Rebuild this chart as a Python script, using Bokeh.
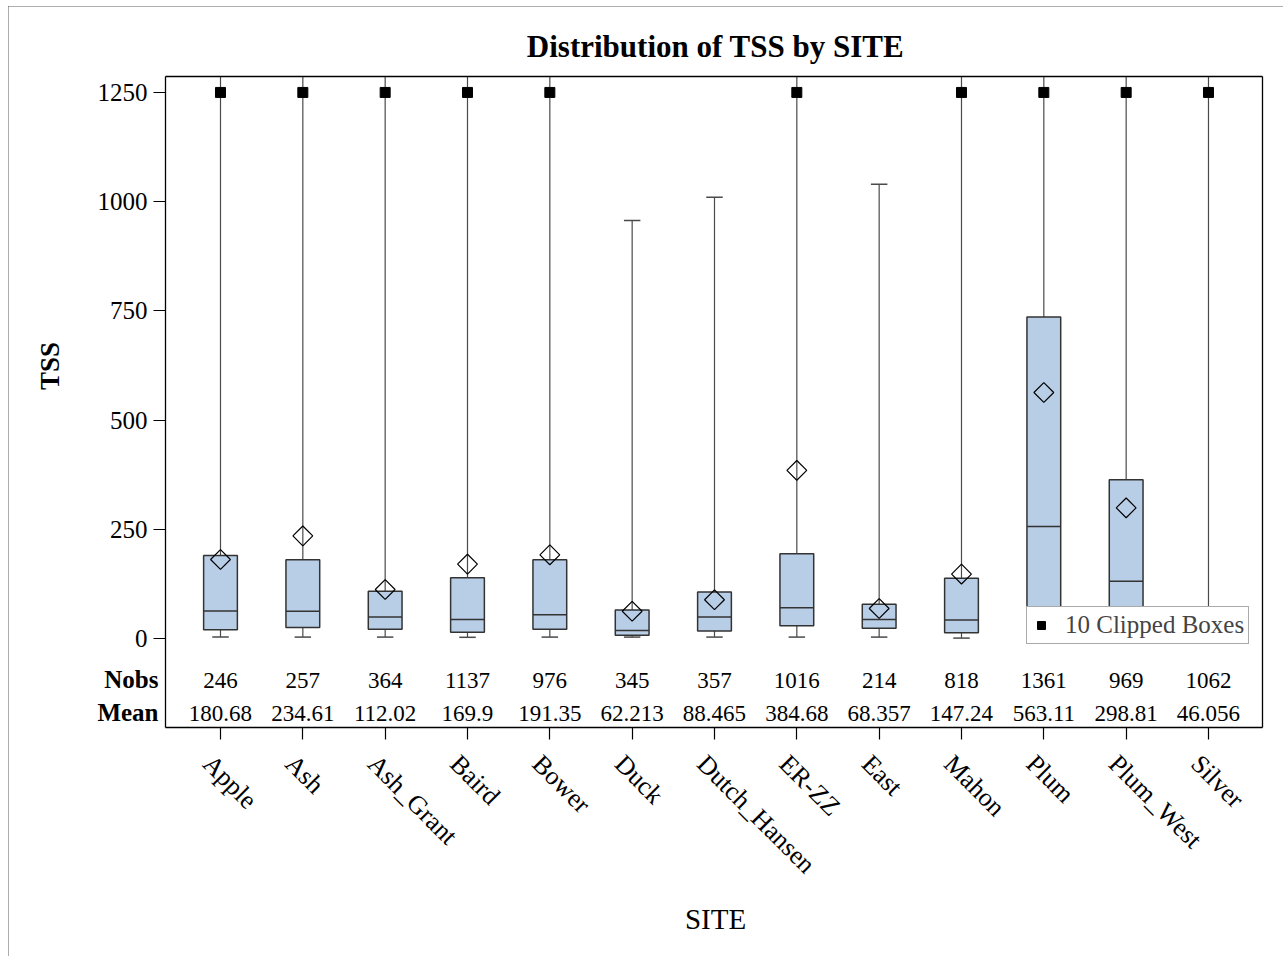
import math
from bokeh.plotting import figure
from bokeh.models import Range1d, FixedTicker, LinearAxis
from bokeh.embed import file_html
from bokeh.resources import INLINE
from bokeh.core.properties import value

# ---------------- data ----------------
sites = ["Apple", "Ash", "Ash_Grant", "Baird", "Bower", "Duck", "Dutch_Hansen",
         "ER-ZZ", "East", "Mahon", "Plum", "Plum_West", "Silver"]
nobs = [246, 257, 364, 1137, 976, 345, 357, 1016, 214, 818, 1361, 969, 1062]
mean_labels = ["180.68", "234.61", "112.02", "169.9", "191.35", "62.213", "88.465",
               "384.68", "68.357", "147.24", "563.11", "298.81", "46.056"]
means = [180.68, 234.61, 112.02, 169.9, 191.35, 62.213, 88.465,
         384.68, 68.357, 147.24, 563.11, 298.81, 46.056]
q1 = [20, 25, 21, 14, 21, 7, 17, 29, 23, 13, 55, 25, 6]
medians = [63, 62, 49, 43, 54, 18, 49, 70, 43, 42, 256, 131, 18]
q3 = [190, 180, 108, 139, 180, 65, 106, 194, 78, 138, 736, 363, 55]
whisker_low = [3, 3, 3, 2.5, 3, 3, 3, 3, 3, 0.7, 2, 1, 0]
# None -> whisker runs past the clip value (clipped box)
whisker_high = [None, None, None, None, None, 957, 1010, None, 1040, None, None, None, None]
clip_value = 1250
y_ticks = [0, 250, 500, 750, 1000, 1250]

# ---------------- geometry (page pixels) ----------------
OX, OY = 8, 6            # canvas offset on the page
W, H = 1275, 950         # canvas size
BOX_L, BOX_R, BOX_T, BOX_B = 165, 1262, 76, 727   # visible plot box
X_LO, X_HI = -0.668, 12.656
Y_LO, Y_HI = -204.0, 1286.5
SX = (BOX_R - BOX_L) / (X_HI - X_LO)
SY = (BOX_B - BOX_T) / (Y_HI - Y_LO)


def dx(px):
    return X_LO + (px - BOX_L) / SX


def dy(py):
    return Y_LO + (BOX_B - py) / SY


def base_y(py, fs):
    # baseline at page pixel py for a font of fs px
    return dy(py - 0.4 * fs)


x_start, x_end = dx(OX), dx(OX + W)
y_start, y_end = dy(OY + H), dy(OY)

# ---------------- styles ----------------
FONT = "Liberation Serif"
BOX_FILL = "#B8CEE6"
EDGE = "#333333"
WHISK = "#4a4a4a"
BOX_W = 0.41
CAP_W = 0.2

p = figure(width=W, height=H, output_backend="svg", toolbar_location=None,
           x_range=Range1d(x_start, x_end), y_range=Range1d(y_start, y_end),
           x_axis_location=None, y_axis_location=None, min_border=0)
p.styles = {"margin-left": f"{OX}px", "margin-top": f"{OY}px",
            "outline": "1px solid #5a5a5a", "outline-offset": "-1px"}
p.xgrid.visible = False
p.ygrid.visible = False
p.outline_line_color = None

xs = list(range(len(sites)))

# whiskers
clipped = [i for i in xs if whisker_high[i] is None]
up_y1 = [Y_HI if whisker_high[i] is None else whisker_high[i] for i in xs]
p.segment(x0=xs, y0=q3, x1=xs, y1=up_y1, line_color=WHISK, line_width=1.2)
p.segment(x0=xs, y0=q1, x1=xs, y1=whisker_low, line_color=WHISK, line_width=1.2)
p.segment(x0=[i - CAP_W / 2 for i in xs], y0=whisker_low,
          x1=[i + CAP_W / 2 for i in xs], y1=whisker_low, line_color=WHISK, line_width=1.5)
capped = [i for i in xs if whisker_high[i] is not None]
p.segment(x0=[i - CAP_W / 2 for i in capped], y0=[whisker_high[i] for i in capped],
          x1=[i + CAP_W / 2 for i in capped], y1=[whisker_high[i] for i in capped],
          line_color=WHISK, line_width=1.5)

# boxes
p.vbar(x=xs, width=BOX_W, bottom=q1, top=q3, fill_color=BOX_FILL,
       line_color=EDGE, line_width=1.5)
p.segment(x0=[i - BOX_W / 2 for i in xs], y0=medians,
          x1=[i + BOX_W / 2 for i in xs], y1=medians, line_color=EDGE, line_width=1.5)

# means (open diamonds)
p.scatter(x=xs, y=means, marker="square", angle=math.pi / 4, size=14,
          fill_color=None, line_color="black", line_width=1.2)

# clipped markers
p.scatter(x=clipped, y=[clip_value] * len(clipped), marker="square", size=10,
          fill_color="black", line_color="black",
          legend_label=f"{len(clipped)} Clipped Boxes")

leg = p.legend[0]
leg.location = (1026 - OX, OY + H - 644)
leg.margin = 0
leg.padding = 4
leg.glyph_width = 20
leg.glyph_height = 24
leg.label_height = 24
leg.label_standoff = 14
leg.label_text_font = FONT
leg.label_text_font_size = "25px"
leg.border_line_color = "#555555"
leg.border_line_width = 1
leg.background_fill_alpha = 1.0

# inset statistics table
p.text(x=xs, y=[base_y(689, 23)] * len(xs), text=[str(n) for n in nobs],
       text_align="center", text_baseline="alphabetic", text_font=value(FONT),
       text_font_size="23px", text_color="black")
p.text(x=xs, y=[base_y(722, 23)] * len(xs), text=mean_labels,
       text_align="center", text_baseline="alphabetic", text_font=value(FONT),
       text_font_size="23px", text_color="black")
p.text(x=[dx(158)] * 2, y=[base_y(689, 25), base_y(722, 25)], text=["Nobs", "Mean"],
       text_align="right", text_baseline="alphabetic", text_font=value(FONT),
       text_font_size="25px", text_font_style="bold", text_color="black")

# titles
p.text(x=[dx(715)], y=[base_y(58.5, 31)], text=["Distribution of TSS by SITE"],
       text_align="center", text_baseline="alphabetic", text_font=value(FONT),
       text_font_size="31px", text_font_style="bold", text_color="black")
p.text(x=[dx(60 - 0.4 * 27)], y=[dy(365.5)], text=["TSS"], angle=math.pi / 2,
       text_align="center", text_baseline="alphabetic", text_font=value(FONT),
       text_font_size="27px", text_font_style="bold", text_color="black")
p.text(x=[dx(715)], y=[base_y(930, 29)], text=["SITE"], text_align="center",
       text_baseline="alphabetic", text_font=value(FONT), text_font_size="29px",
       text_color="black")


# ---------------- axes (also drawing the plot box) ----------------
def style_axis(ax, fs="25px"):
    ax.major_tick_in = 0
    ax.major_tick_out = 12
    ax.minor_tick_in = 0
    ax.minor_tick_out = 0
    ax.major_tick_line_color = "black"
    ax.major_tick_line_width = 1.2
    ax.axis_line_color = "black"
    ax.axis_line_width = 1.3
    ax.major_label_text_font = FONT
    ax.major_label_text_font_size = fs
    ax.major_label_text_color = "black"


# category axis: tick marks at the box centres
xaxis = LinearAxis(fixed_location=Y_LO, bounds=(X_LO, X_HI),
                   ticker=FixedTicker(ticks=xs, minor_ticks=[]),
                   major_label_overrides={i: "" for i in xs})
style_axis(xaxis)
p.add_layout(xaxis, "below")

# rotated category labels, anchored like the original (text corner under the tick)
LABEL_SHIFT = 13 / SX
label_ticks = [i - LABEL_SHIFT for i in xs]
xlabels = LinearAxis(fixed_location=Y_LO,
                     ticker=FixedTicker(ticks=label_ticks, minor_ticks=[]),
                     major_label_overrides={t: s for t, s in zip(label_ticks, sites)},
                     major_label_orientation=-math.pi / 4, major_label_standoff=32)
style_axis(xlabels, "26px")
xlabels.axis_line_color = None
xlabels.major_tick_line_color = None
xlabels.major_tick_out = 0
p.add_layout(xlabels, "below")

yaxis = LinearAxis(fixed_location=X_LO, bounds=(Y_LO, Y_HI),
                   ticker=FixedTicker(ticks=y_ticks, minor_ticks=[]),
                   major_label_standoff=6)
style_axis(yaxis)
p.add_layout(yaxis, "left")

top_axis = LinearAxis(fixed_location=Y_HI, bounds=(X_LO, X_HI),
                      ticker=FixedTicker(ticks=[], minor_ticks=[]))
style_axis(top_axis)
p.add_layout(top_axis, "above")

right_axis = LinearAxis(fixed_location=X_HI, bounds=(Y_LO, Y_HI),
                        ticker=FixedTicker(ticks=[], minor_ticks=[]))
style_axis(right_axis)
p.add_layout(right_axis, "right")

open("out.html", "w").write(file_html(p, INLINE))
